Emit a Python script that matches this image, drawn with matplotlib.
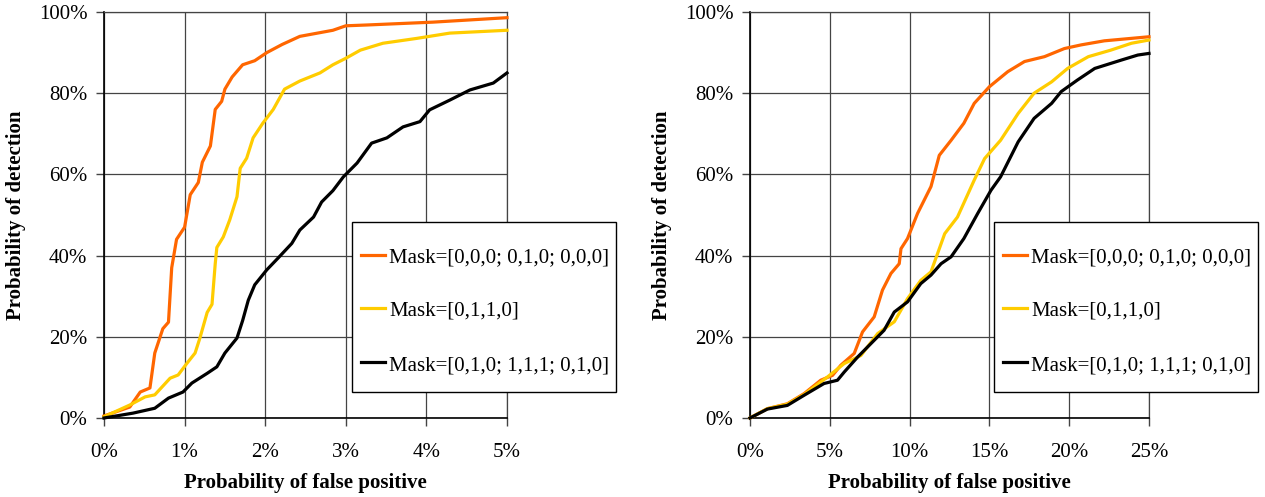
import numpy as np
import matplotlib
matplotlib.use("Agg")
import matplotlib.pyplot as plt
from matplotlib.patches import Rectangle

plt.rcParams['font.family'] = ['Liberation Serif', 'DejaVu Serif']

labels = ["Mask=[0,0,0; 0,1,0; 0,0,0]", "Mask=[0,1,1,0]", "Mask=[0,1,0; 1,1,1; 0,1,0]"]
colors = ["#FF6600", "#FFCC00", "#000000"]

# left panel: false positive (%) vs detection (%)
left_orange_x = [0, 0.32, 0.45, 0.57, 0.63, 0.73, 0.8, 0.84, 0.9, 1.0, 1.07, 1.17, 1.22, 1.32, 1.38, 1.46,
                 1.5, 1.59, 1.72, 1.87, 2.02, 2.21, 2.43, 2.84, 3.0, 3.26, 4.08, 5.0]
left_orange_y = [0.5, 2.7, 6.4, 7.4, 16, 22, 23.6, 37, 44, 47, 55, 58, 63, 67, 76, 78,
                 81, 84, 87, 88, 90, 92, 94, 95.5, 96.6, 96.8, 97.5, 98.6]
left_yellow_x = [0, 0.32, 0.51, 0.63, 0.82, 0.92, 1.03, 1.13, 1.19, 1.28, 1.34, 1.38, 1.4, 1.48, 1.56, 1.65,
                 1.69, 1.77, 1.85, 1.97, 2.1, 2.24, 2.43, 2.68, 2.84, 3.0, 3.18, 3.46, 3.88, 4.29, 5.0]
left_yellow_y = [0.3, 3.2, 5.2, 5.7, 9.8, 10.6, 13.5, 16, 19.7, 26, 28, 38, 42, 44.6, 48.8, 54.5,
                 61.5, 64, 69, 72.6, 76, 81, 83, 85, 87, 88.6, 90.6, 92.3, 93.5, 94.8, 95.5]
left_black_x = [0, 0.36, 0.63, 0.8, 0.98, 1.09, 1.28, 1.4, 1.5, 1.65, 1.72, 1.79, 1.87, 2.02, 2.16, 2.33,
                2.43, 2.6, 2.7, 2.84, 2.97, 3.14, 3.32, 3.51, 3.71, 3.92, 4.04, 4.29, 4.54, 4.83, 5.0]
left_black_y = [0, 1.2, 2.4, 4.9, 6.4, 8.6, 11, 12.6, 16, 19.7, 24, 29, 32.8, 36.5, 39.4, 43,
                46.3, 49.5, 53.2, 56, 59.4, 62.8, 67.7, 69, 71.7, 73, 75.9, 78.3, 80.8, 82.5, 85]

# right panel
right_orange_x = [0, 1.09, 2.34, 3.39, 4.43, 5.17, 5.69, 6.53, 7.05, 7.78, 8.3, 8.83, 9.35, 9.46, 9.87, 10.5,
                  11.34, 11.86, 12.6, 13.4, 14.05, 15.0, 16.15, 17.2, 18.45, 19.7, 20.75, 22.2, 25.0]
right_orange_y = [0, 2.3, 3.5, 6, 9.3, 10.5, 13, 15.9, 21.2, 24.9, 31.5, 35.6, 38, 41.7, 44.2, 50.4,
                  57, 64.7, 68.4, 72.6, 77.5, 81.6, 85.3, 87.8, 89, 91, 91.9, 92.9, 93.9]
right_yellow_x = [0, 1.09, 2.34, 3.39, 4.85, 5.9, 6.95, 8.0, 9.04, 9.87, 10.7, 11.34, 12.2, 13.0, 14.05,
                  14.7, 15.7, 16.8, 17.8, 18.9, 19.9, 21.2, 22.6, 23.9, 25.0]
right_yellow_y = [0, 2.3, 3.4, 5.8, 10.1, 13.4, 15.4, 20.8, 23.7, 29.4, 33.9, 36, 45.4, 49.5, 58.6,
                  63.9, 68.4, 75, 80, 82.8, 86.1, 89, 90.6, 92.3, 93.1]
right_black_x = [0, 1.09, 2.34, 3.39, 4.64, 5.48, 5.9, 6.74, 7.57, 8.4, 9.04, 9.87, 10.7, 11.34, 11.97,
                 12.6, 13.4, 14.27, 15.1, 15.7, 16.8, 17.8, 18.9, 19.5, 20.5, 21.6, 23.3, 24.3, 25.0]
right_black_y = [0, 2.2, 3.1, 5.6, 8.5, 9.3, 11.3, 15, 18.3, 21.6, 26.1, 28.6, 33.1, 35.2, 38,
                 39.7, 44.2, 50.4, 56.1, 59.4, 68, 73.8, 77.5, 80.4, 83.2, 86.1, 88.2, 89.4, 89.8]

fig = plt.figure(figsize=(12.65, 4.97), dpi=100)

panels = [
    ([104, 403], 5, [0, 1, 2, 3, 4, 5],
     [(left_orange_x, left_orange_y), (left_yellow_x, left_yellow_y), (left_black_x, left_black_y)], 352),
    ([750, 399], 25, [0, 5, 10, 15, 20, 25],
     [(right_orange_x, right_orange_y), (right_yellow_x, right_yellow_y), (right_black_x, right_black_y)], 994),
]

for (x0, w), xmax, xticks, series, legx in panels:
    ax = fig.add_axes([x0 / 1265, 1 - 418 / 497, w / 1265, 406 / 497])
    lines = []
    for (xs, ys), c in zip(series, colors):
        ln, = ax.plot(xs, ys, color=c, lw=2.3, solid_joinstyle='round', clip_on=False, zorder=3)
        lines.append(ln)
    ax.set_xlim(0, xmax)
    ax.set_ylim(0, 100)
    ax.set_xticks(xticks)
    ax.set_xticklabels([f"{t}%" for t in xticks])
    ax.set_yticks(range(0, 101, 20))
    ax.set_yticklabels([f"{t}%" for t in range(0, 101, 20)])
    ax.grid(True, color='#444444', lw=0.9)
    for s in ['top', 'right']:
        ax.spines[s].set_color('#444444')
        ax.spines[s].set_linewidth(0.9)
    for s in ['left', 'bottom']:
        ax.spines[s].set_color('black')
        ax.spines[s].set_linewidth(1.2)
    ax.tick_params(axis='x', direction='out', length=6, width=1, color='#444444', pad=12, labelsize=15)
    ax.tick_params(axis='y', direction='out', length=6, width=1, color='#444444', pad=6, labelsize=15)
    ax.set_xlabel("Probability of false positive", fontsize=15, fontweight='bold', labelpad=8)
    ax.set_ylabel("Probability of detection", fontsize=15, fontweight='bold', labelpad=9)

    # legend frame drawn separately to get the tall padding
    fig.patches.append(Rectangle((legx / 1265, 1 - 392 / 497), 264 / 1265, 170 / 497,
                                 transform=fig.transFigure, facecolor='white',
                                 edgecolor='black', lw=1.0, zorder=4))
    leg = fig.legend(lines, labels, loc='upper left',
                     bbox_to_anchor=((legx + 3) / 1265, 1 - 241 / 497),
                     frameon=False, fontsize=15, handlelength=1.15, handletextpad=0.2,
                     labelspacing=1.65, borderpad=0.3, borderaxespad=0)
    leg.set_zorder(6)

fig.savefig("out.png", dpi=100)
